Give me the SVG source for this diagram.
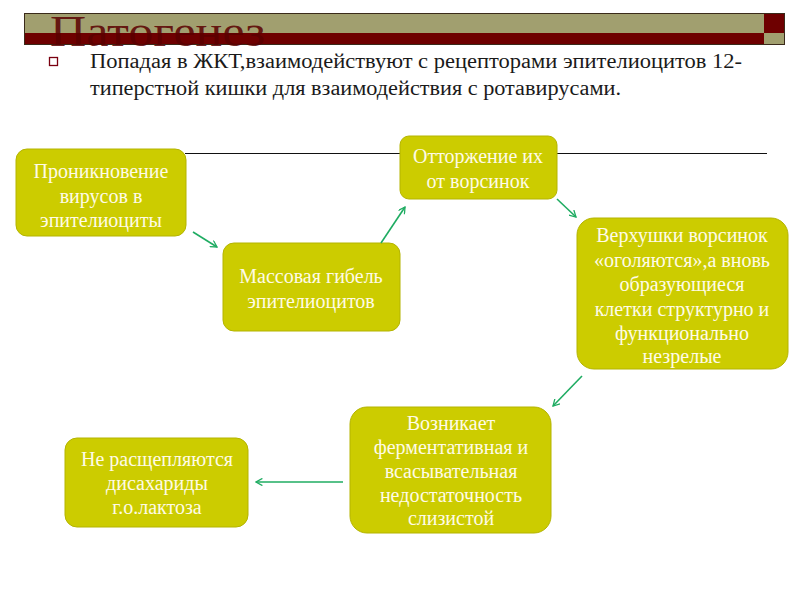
<svg xmlns="http://www.w3.org/2000/svg" width="800" height="600" viewBox="0 0 800 600" font-family="Liberation Serif, DejaVu Serif, serif">
<defs>
<style>
.node rect{fill:#cccc00;stroke:#b4b400;stroke-width:1}
.node text{font-size:20px;fill:#fffbe6;text-anchor:middle}
.body{font-size:20px;fill:#1a1a1a}
.conn line{stroke:#1fac62;stroke-width:1.6}
</style>
<marker id="ah" viewBox="0 0 10 10" refX="9" refY="5" markerWidth="8" markerHeight="8" markerUnits="userSpaceOnUse" orient="auto">
<path d="M1,0.5 L9,5 L1,9.5" fill="none" stroke="#1fac62" stroke-width="1.6"/>
</marker>
</defs>
<rect width="800" height="600" fill="#fff"/>
<g id="titlebar">
<rect x="24" y="13" width="740" height="20" fill="#a19f6f"/>
<rect x="24" y="33" width="740" height="12" fill="#6e0000"/>
<rect x="764" y="13" width="21" height="20" fill="#6e0000"/>
<rect x="764" y="33" width="21" height="12" fill="#a19f6f"/>
<rect x="24.5" y="13.5" width="760" height="31" fill="none" stroke="#3a2a1a" stroke-width="1"/>
<text x="50" y="46" font-size="44" fill="#5a0000" fill-opacity="0.85" textLength="215" lengthAdjust="spacingAndGlyphs">Патогенез</text>
</g>
<g id="bullet">
<rect x="49.5" y="57.5" width="8" height="8" fill="none" stroke="#7a0010" stroke-width="1.3"/>
<text class="body" x="90" y="68" textLength="652" lengthAdjust="spacingAndGlyphs">Попадая в ЖКТ,взаимодействуют с рецепторами  эпителиоцитов 12-</text>
<text class="body" x="90" y="95" textLength="531" lengthAdjust="spacingAndGlyphs">типерстной кишки для взаимодействия с ротавирусами.</text>
</g>
<line x1="185" y1="153.5" x2="767" y2="153.5" stroke="#111" stroke-width="1"/>
<g id="n1" class="node"><rect x="16" y="149" width="170" height="87" rx="11"/>
<text x="101" y="178">Проникновение</text><text x="101" y="203">вирусов в</text><text x="101" y="227">эпителиоциты</text></g>
<g id="n2" class="node"><rect x="223" y="243" width="177" height="88" rx="11"/>
<text x="311" y="283">Массовая гибель</text><text x="311" y="308">эпителиоцитов</text></g>
<g id="n3" class="node"><rect x="400" y="136" width="157" height="63" rx="9"/>
<text x="478" y="163">Отторжение их</text><text x="478" y="188">от ворсинок</text></g>
<g id="n4" class="node"><rect x="577" y="218" width="211" height="151" rx="17"/>
<text x="682" y="242">Верхушки ворсинок</text><text x="682" y="267">«оголяются»,а вновь</text><text x="682" y="291">образующиеся</text><text x="682" y="316">клетки структурно и</text><text x="682" y="340">функционально</text><text x="682" y="363">незрелые</text></g>
<g id="n5" class="node"><rect x="350" y="407" width="201" height="126" rx="17"/>
<text x="451" y="430">Возникает</text><text x="451" y="454">ферментативная и</text><text x="451" y="478">всасывательная</text><text x="451" y="502">недостаточность</text><text x="451" y="525">слизистой</text></g>
<g id="n6" class="node"><rect x="65" y="438" width="183" height="89" rx="12"/>
<text x="157" y="466">Не расщепляются</text><text x="157" y="490">дисахариды</text><text x="157" y="514">г.о.лактоза</text></g>
<g id="connectors" class="conn">
<line x1="193" y1="232" x2="217" y2="247" marker-end="url(#ah)"/>
<line x1="381" y1="243" x2="405" y2="207" marker-end="url(#ah)"/>
<line x1="557" y1="199" x2="576" y2="217" marker-end="url(#ah)"/>
<line x1="582" y1="376" x2="553" y2="406" marker-end="url(#ah)"/>
<line x1="343" y1="482" x2="256" y2="482" marker-end="url(#ah)"/>
</g>
</svg>
